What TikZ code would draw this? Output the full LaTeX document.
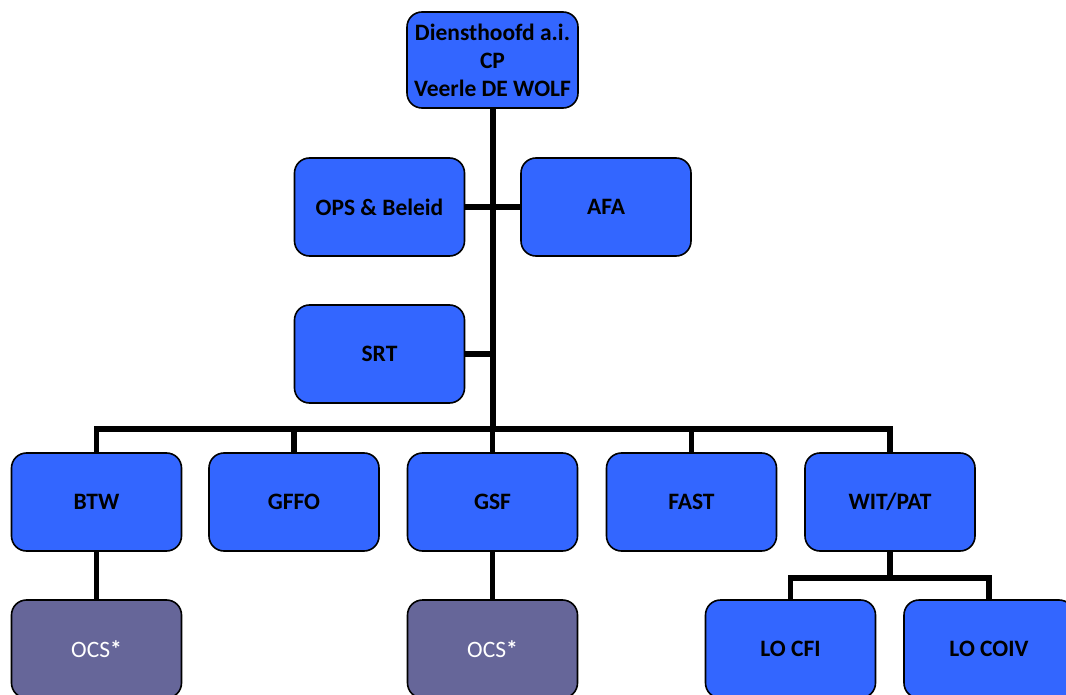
\documentclass[tikz,border=0pt]{standalone}
\usepackage{fontspec}
\setmainfont{Carlito}
\usetikzlibrary{backgrounds}
\definecolor{unitblue}{HTML}{3366FF}
\definecolor{ocspurple}{HTML}{666699}
\begin{document}
\begin{tikzpicture}[x=1pt,y=-1pt,
  unit/.style={draw=black, line width=1.6pt, rounded corners=15pt, fill=unitblue,
    minimum width=170pt, minimum height=98pt, inner sep=2pt, align=center,
    font=\fontsize{23.5}{28}\selectfont\bfseries},
  ocs/.style={unit, fill=ocspurple, text=white, font=\fontsize{23.5}{28}\selectfont},
  link/.style={line width=5.5pt, draw=black}
]
\useasboundingbox (0,0) rectangle (1066,695);

% management
\node[unit, minimum width=171pt, minimum height=96pt] (head) at (492.5,60)
  {Diensthoofd a.i.\\CP\\Veerle DE WOLF};
\node[unit] (ops) at (379.5,207) {OPS \& Beleid};
\node[unit] (afa) at (606,207) {AFA};
\node[unit] (srt) at (379.5,354) {SRT};

% departments
\node[unit] (btw)  at (96.5,502) {BTW};
\node[unit] (gffo) at (294,502) {GFFO};
\node[unit] (gsf)  at (492.5,502) {GSF};
\node[unit] (fast) at (691.5,502) {FAST};
\node[unit] (wit)  at (890,502) {WIT/PAT};

% sub units
\node[ocs] (ocs1) at (96.5,649) {OCS\textbf{*}};
\node[ocs] (ocs2) at (492.5,649) {OCS\textbf{*}};
\node[unit] (locfi)  at (790.5,649) {LO CFI};
\node[unit] (locoiv) at (989,649) {LO COIV};

% connector junctions
\coordinate (trunkbot) at (493,429);
\coordinate (srtj) at (493,354);
\coordinate (witj) at (890,578);

% connectors behind the boxes
\begin{scope}[on background layer]
\draw[link] (head.south -| trunkbot) -- (trunkbot);
\draw[link] (ops.east) -- (afa.west);
\draw[link] (srt.east) -- (srtj);
\draw[link] (btw.north) |- (trunkbot) -| (wit.north);
\draw[link] (gffo.north) -- (gffo.north |- trunkbot);
\draw[link] (gsf.north) -- (gsf.north |- trunkbot);
\draw[link] (fast.north) -- (fast.north |- trunkbot);
\draw[link] (btw.south) -- (ocs1.north);
\draw[link] (gsf.south) -- (ocs2.north);
\draw[link] (wit.south) -- (witj);
\draw[link] (locfi.north) |- (witj) -| (locoiv.north);
\end{scope}
\end{tikzpicture}
\end{document}
